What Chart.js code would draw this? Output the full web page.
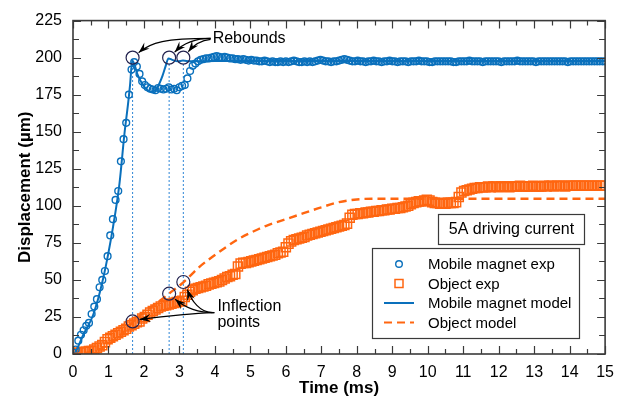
<!DOCTYPE html>
<html>
<head>
<meta charset="utf-8">
<script src="https://cdn.jsdelivr.net/npm/chart.js@4.4.1/dist/chart.umd.min.js"></script>
<style>
  html, body { margin: 0; padding: 0; background: #fff; }
  #wrap { width: 623px; height: 403px; }
</style>
</head>
<body>
<div id="wrap"><canvas id="myChart" width="623" height="403"></canvas></div>
<script>
// camera frames are evenly spaced, one every 0.075 ms
const sampleStep = 0.075;

// measured displacement of the mobile magnet (µm), one value per frame
const magnetExp = [
  1, 3, 9, 13, 16, 19, 21, 27, 32, 37,
  45, 50, 56, 66, 80, 91, 104, 110, 130, 145,
  156, 175, 192, 197, 194, 189, 184, 181.5, 180, 179,
  178.5, 178, 179.5, 179, 178.5, 179, 180, 178.5, 179, 178,
  180, 181, 181.5, 186, 191, 194.5, 196, 197.5, 198.5, 199,
  199.5, 199.5, 200, 200.5, 201, 200.5, 200, 200.5, 200, 199.5,
  199.5, 199, 199, 198.5, 199, 198.5, 198, 198.5, 198, 198,
  197.5, 197.5, 198, 197.5, 197, 197.5, 197, 197, 197.5, 197,
  197.5, 197, 197.5, 198, 197.5, 197, 197, 197.5, 197, 197.5,
  197, 197.5, 198, 198.5, 198, 197.5, 197.5, 197, 197.5, 197.5,
  198, 198.5, 199, 198.5, 198, 197.5, 197.5, 198, 197.5, 197.5,
  197, 197.5, 197.5, 198, 197.5, 197.5, 197, 197.5, 197.5, 198,
  197.5, 197.5, 197, 197.5, 197.5, 197.5, 197, 197.5, 197.5, 197.5,
  198, 197.5, 197.5, 197.5, 197, 197, 197.5, 197.5, 197.5, 197.5,
  197.5, 197.5, 197.5, 197, 197, 197.5, 197.5, 197.5, 197.5, 198,
  197.5, 197.5, 197.5, 197.5, 197, 197.5, 197.5, 197.5, 197.5, 197.5,
  197.5, 197, 197.5, 197.5, 197.5, 197.5, 197.5, 198, 197.5, 197.5,
  197.5, 197.5, 197.5, 197.5, 197, 197.5, 197.5, 197.5, 197.5, 197.5,
  197.5, 197.5, 197.5, 197.5, 197.5, 197.5, 197, 197.5, 197.5, 197.5,
  197.5, 197.5, 197.5, 197.5, 197.5, 197.5, 197.5, 197.5, 197.5, 197.5,
  197.5
];

// measured displacement of the object (µm), same frames
const objectExp = [
  0, 0.5, 1, 1, 1.5, 1.5, 2, 2, 3, 4,
  5, 6, 8, 10, 11, 12, 13, 14, 15, 16,
  17, 18.5, 19.5, 20.5, 21.5, 22, 24, 25, 26.5, 28,
  29, 30, 31, 32, 32.5, 33, 33.5, 34, 34.5, 35,
  35.5, 36, 38.5, 40, 42, 43, 44, 44.5, 45, 45.5,
  46, 47, 47.5, 48, 48.5, 49, 50, 51, 52, 52.5,
  53.5, 54, 59, 61, 61.5, 61.5, 62, 62.5, 63, 63.5,
  64, 64.5, 65, 65.5, 66, 66.5, 67, 68, 68.5, 69,
  72, 74.5, 76, 77, 77.5, 78, 78.5, 79, 80, 80.5,
  81, 81.5, 82, 82.5, 83, 83.5, 84, 84.5, 85, 85.5,
  86, 86.5, 87, 88, 92, 94, 94.5, 94.5, 95, 95,
  95.5, 95.5, 96, 96, 96.5, 96.5, 97, 97, 97.5, 97.5,
  98, 98, 98.5, 98.5, 99, 99.5, 100, 101, 102, 102.5,
  103, 103, 103.5, 104, 103.5, 102.5, 102, 102, 101.5, 101.5,
  101.5, 102, 102, 102, 102.5, 106, 109, 110, 110.5, 111,
  111.5, 112, 112, 112.5, 112.5, 112.5, 113, 112.5, 113, 113,
  112.5, 113, 113, 113, 112.5, 113, 113, 113, 113.5, 113,
  113, 113, 113, 113.5, 113, 113, 113, 113.5, 113, 113.5,
  113.5, 113, 113.5, 113.5, 113.5, 113, 113.5, 113.5, 113.5, 113.5,
  113.5, 113.5, 113.5, 113.5, 113.5, 113.5, 113.5, 113.5, 113.5, 113.5,
  113.5
];

// model curves
const magnetModelT = [0, 0.06, 0.29, 0.57, 0.85, 1.13, 1.31, 1.45, 1.55, 1.61, 1.67, 1.74, 1.82, 1.96, 2.10, 2.24, 2.38, 2.52, 2.62, 2.69, 2.80, 2.95, 3.10, 3.30, 4.0, 15];
const magnetModelY = [0, 1, 13, 26.5, 51, 86, 115, 148.5, 168.5, 182, 198, 195, 188.5, 182, 178, 177, 180, 187.5, 195, 199.5, 198.5, 197.5, 198, 197.5, 197.7, 197.7];
const objectModelT = [0, 0.3, 0.6, 0.9, 1.2, 1.5, 1.68, 2.0, 2.4, 2.72, 3.12, 3.55, 4.1, 4.66, 5.22, 5.5, 6.0, 6.5, 7.0, 7.5, 8.0, 8.5, 9.0, 15];
const objectModelY = [0, 0.5, 2, 5, 10, 16.5, 21.5, 28, 35, 41, 48.5, 58.5, 68.5, 77.5, 84.2, 87, 91, 95, 99, 102.5, 104.3, 104.8, 104.8, 104.8];

// rebound and inflection instants (ms) and where they sit
const eventT = [1.68, 2.71, 3.11];
const reboundY = [200, 200, 200];
const inflectionY = [22, 40.7, 48.6];
const guideTop = 196;

const timeTicks = [0, 1, 2, 3, 4, 5, 6, 7, 8, 9, 10, 11, 12, 13, 14, 15];
const dispTicks = [0, 25, 50, 75, 100, 125, 150, 175, 200, 225];

const BLUE = '#0a70bc';
const ORANGE = '#ff6610';
const MARK = '#23234f';
const FONT = '"Liberation Sans", Arial, Helvetica, sans-serif';

const pairs = (xs, ys) => xs.map((x, i) => ({ x: x, y: ys[i] }));
const frames = ys => ys.map((y, i) => ({ x: i * sampleStep, y: y }));

const guideSets = eventT.map(t => ({
  label: '',
  data: [{ x: t, y: 0 }, { x: t, y: guideTop }],
  showLine: true,
  borderColor: '#2f86d6',
  borderWidth: 1,
  borderDash: [2, 2],
  pointRadius: 0,
  order: 6
}));

// axis frame with inward ticks on all four sides
const frame = {
  id: 'frame',
  afterDatasetsDraw(chart) {
    const { ctx, chartArea: a, scales: { x, y } } = chart;
    ctx.save();
    ctx.strokeStyle = '#3a3a3a';
    ctx.lineWidth = 1.2;
    ctx.beginPath();
    for (let v = 0; v <= 15; v += 0.5) {
      const px = Math.round(x.getPixelForValue(v)) + 0.5;
      const len = Number.isInteger(v) ? 8 : 5;
      ctx.moveTo(px, a.bottom); ctx.lineTo(px, a.bottom - len);
      ctx.moveTo(px, a.top); ctx.lineTo(px, a.top + len);
    }
    for (let v = 0; v <= 225; v += 12.5) {
      const py = Math.round(y.getPixelForValue(v)) + 0.5;
      const len = v % 25 === 0 ? 8 : 6;
      ctx.moveTo(a.left, py); ctx.lineTo(a.left + len, py);
      ctx.moveTo(a.right, py); ctx.lineTo(a.right - len, py);
    }
    ctx.stroke();
    ctx.lineWidth = 1.6;
    ctx.strokeRect(a.left, a.top, a.right - a.left, a.bottom - a.top);
    ctx.restore();
  }
};

function arrow(ctx, s, c1, c2, tip) {
  ctx.beginPath();
  ctx.moveTo(s[0], s[1]);
  ctx.bezierCurveTo(c1[0], c1[1], c2[0], c2[1], tip[0], tip[1]);
  ctx.stroke();
  const ang = Math.atan2(tip[1] - c2[1], tip[0] - c2[0]);
  const cos = Math.cos(ang), sin = Math.sin(ang);
  const L = 11, W = 4;
  ctx.beginPath();
  ctx.moveTo(tip[0], tip[1]);
  ctx.lineTo(tip[0] - L * cos + W * sin, tip[1] - L * sin - W * cos);
  ctx.lineTo(tip[0] - 7 * cos, tip[1] - 7 * sin);
  ctx.lineTo(tip[0] - L * cos - W * sin, tip[1] - L * sin + W * cos);
  ctx.closePath();
  ctx.fill();
}

// "Rebounds" / "Inflection points" callouts, legend and the current box
const notes = {
  id: 'notes',
  afterDraw(chart) {
    const { ctx, scales: { x, y } } = chart;
    ctx.save();
    ctx.fillStyle = '#000';
    ctx.strokeStyle = '#000';
    ctx.lineWidth = 1.2;

    // rebounds
    const rb = eventT.map((t, i) => [x.getPixelForValue(t), y.getPixelForValue(reboundY[i])]);
    const rx = x.getPixelForValue(3.88), ry = y.getPixelForValue(213);
    ctx.font = '16px ' + FONT;
    ctx.textBaseline = 'middle';
    ctx.textAlign = 'left';
    ctx.fillText('Rebounds', rx + 2, ry);
    arrow(ctx, [rx, ry], [rx - 45, ry], [rb[0][0] + 18, ry + 4], [rb[0][0] + 6, rb[0][1] - 5]);
    arrow(ctx, [rx, ry], [rx - 14, ry], [rb[1][0] + 14, ry + 5], [rb[1][0] + 5.5, rb[1][1] - 5.5]);
    arrow(ctx, [rx, ry + 1], [rx - 9, ry + 2], [rb[2][0] + 10, ry + 7], [rb[2][0] + 5, rb[2][1] - 6]);

    // inflection points
    const ip = eventT.map((t, i) => [x.getPixelForValue(t), y.getPixelForValue(inflectionY[i])]);
    const ix = x.getPixelForValue(4.07), iy = y.getPixelForValue(32);
    ctx.fillText('Inflection', ix, iy);
    ctx.fillText('points', ix, iy + 16);
    const sx = ix - 3, sy = iy + 6;
    arrow(ctx, [sx, sy], [sx - 30, sy + 1], [ip[0][0] + 30, ip[0][1] - 5], [ip[0][0] + 7, ip[0][1] - 2]);
    arrow(ctx, [sx, sy], [sx - 16, sy], [ip[1][0] + 16, ip[1][1] + 14], [ip[1][0] + 6, ip[1][1] + 5.5]);
    arrow(ctx, [sx - 2, sy], [sx - 14, sy], [ip[2][0] + 8, ip[2][1] + 19], [ip[2][0] + 4, ip[2][1] + 7.5]);

    // driving current box
    ctx.strokeStyle = '#3a3a3a';
    ctx.lineWidth = 1.2;
    ctx.strokeRect(438.5, 214.5, 146, 30);
    ctx.textAlign = 'center';
    ctx.fillText('5A driving current', 511.5, 230);

    // legend
    ctx.strokeRect(372.5, 248.5, 207, 90);
    ctx.font = '15px ' + FONT;
    ctx.textAlign = 'left';
    const rows = [264, 283.5, 303, 322.5];
    chart.data.datasets.slice(0, 4).forEach((ds, i) => {
      const cy = rows[i];
      ctx.save();
      ctx.strokeStyle = ds.borderColor;
      ctx.lineWidth = Math.min(ds.borderWidth, 2.2);
      if (ds.showLine) {
        ctx.setLineDash(ds.borderDash || []);
        ctx.beginPath();
        ctx.moveTo(384, cy); ctx.lineTo(414, cy);
        ctx.stroke();
      } else if (ds.pointStyle === 'rect') {
        ctx.strokeRect(395, cy - 4, 8, 8);
      } else {
        ctx.beginPath();
        ctx.arc(399, cy, 3.3, 0, Math.PI * 2);
        ctx.stroke();
      }
      ctx.restore();
      ctx.fillText(ds.label, 428, cy + 1);
    });

    // axis titles
    const a = chart.chartArea;
    ctx.font = 'bold 17px ' + FONT;
    ctx.textAlign = 'center';
    ctx.fillText('Time (ms)', (a.left + a.right) / 2, 388);
    ctx.translate(25, (a.top + a.bottom) / 2);
    ctx.rotate(-Math.PI / 2);
    ctx.fillText('Displacement (µm)', 0, 0);
    ctx.restore();
  }
};

new Chart(document.getElementById('myChart').getContext('2d'), {
  type: 'scatter',
  data: {
    datasets: [
      {
        label: 'Mobile magnet exp',
        data: frames(magnetExp),
        pointStyle: 'circle',
        pointRadius: 3.4,
        borderColor: BLUE,
        backgroundColor: 'rgba(0,0,0,0)',
        borderWidth: 1.4,
        showLine: false,
        order: 3
      },
      {
        label: 'Object exp',
        data: frames(objectExp),
        pointStyle: 'rect',
        pointRadius: 6.4,
        borderColor: ORANGE,
        backgroundColor: 'rgba(0,0,0,0)',
        borderWidth: 1.5,
        showLine: false,
        order: 4
      },
      {
        label: 'Mobile magnet model',
        data: pairs(magnetModelT, magnetModelY),
        showLine: true,
        borderColor: BLUE,
        borderWidth: 2,
        pointRadius: 0,
        cubicInterpolationMode: 'monotone',
        order: 2
      },
      {
        label: 'Object model',
        data: pairs(objectModelT, objectModelY),
        showLine: true,
        borderColor: ORANGE,
        borderWidth: 2.4,
        borderDash: [8, 5],
        pointRadius: 0,
        cubicInterpolationMode: 'monotone',
        order: 1
      },
      ...guideSets,
      {
        label: '',
        data: pairs(eventT, reboundY),
        pointRadius: 6.5,
        borderColor: MARK,
        backgroundColor: 'rgba(0,0,0,0)',
        borderWidth: 1.2,
        order: 0
      },
      {
        label: '',
        data: pairs(eventT, inflectionY),
        pointRadius: 6.5,
        borderColor: MARK,
        backgroundColor: 'rgba(0,0,0,0)',
        borderWidth: 1.2,
        order: 0
      }
    ]
  },
  options: {
    responsive: false,
    animation: false,
    events: [],
    layout: { padding: { top: 15, right: 16, left: 0, bottom: 0 } },
    plugins: { legend: { display: false }, tooltip: { enabled: false } },
    scales: {
      x: {
        type: 'linear',
        min: 0,
        max: 15,
        afterFit: s => { s.height = 49; },
        afterBuildTicks: s => { s.ticks = timeTicks.map(v => ({ value: v })); },
        grid: { display: false, drawTicks: false },
        border: { display: false },
        ticks: { color: '#000', padding: 9, font: { size: 16, family: FONT } }
      },
      y: {
        type: 'linear',
        min: 0,
        max: 225,
        afterFit: s => { s.width = 73; },
        afterBuildTicks: s => { s.ticks = dispTicks.map(v => ({ value: v })); },
        grid: { display: false, drawTicks: false },
        border: { display: false },
        ticks: { color: '#000', padding: 11, font: { size: 16, family: FONT } }
      }
    }
  },
  plugins: [frame, notes]
});
</script>
</body>
</html>
